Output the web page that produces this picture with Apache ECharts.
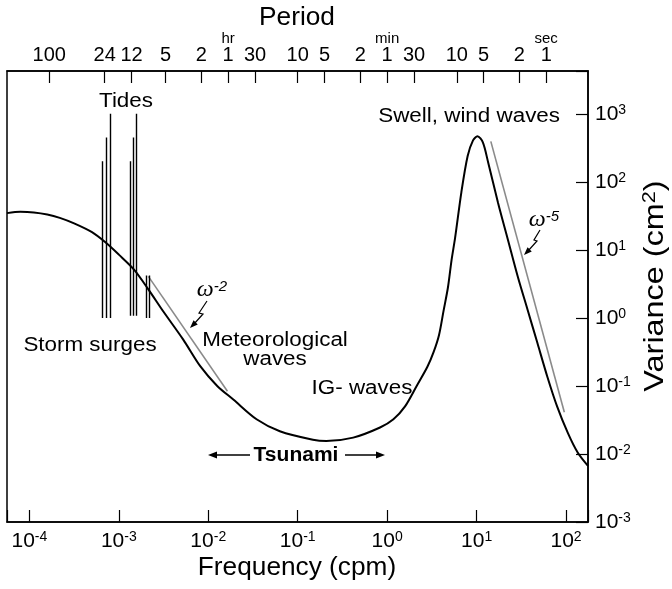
<!DOCTYPE html>
<html><head><meta charset="utf-8">
<script src="https://cdn.jsdelivr.net/npm/echarts@6/dist/echarts.min.js"></script>
<style>html,body{margin:0;padding:0;background:#fff}#c{width:672px;height:589px}</style>
</head><body><div id="c"></div>
<script>
// ---- Data ----
// Spectrum: frequency (cpm) and variance (cm^2)
const spectrumFreq = [5.62e-5, 7.94e-5, 1.122e-4, 1.585e-4, 2.188e-4, 3.162e-4, 5.01e-4, 7.08e-4, 1.0e-3, 1.479e-3,
  2.138e-3, 3.162e-3, 5.25e-3, 8.13e-3, 0.01259, 0.01905, 0.03467, 0.0631, 0.1479, 0.2089,
  0.417, 0.832, 1.175, 1.585, 2.138, 2.818, 3.311, 3.802, 4.266, 4.786,
  5.248, 5.754, 6.761, 7.943, 9.12, 10.23, 11.75, 13.49, 17.38, 22.39,
  28.84, 37.15, 47.86, 61.66, 79.43, 104.7, 134.9, 175.8];
const spectrumVar = [34.7, 36.3, 35.5, 33.1, 29.5, 24.5, 18.2, 12.9, 8.51, 5.13,
  2.63, 1.23, 0.479, 0.195, 0.100, 0.0631, 0.0324, 0.0216, 0.0162, 0.0155,
  0.0174, 0.0245, 0.0324, 0.0501, 0.100, 0.191, 0.316, 0.562, 1.26, 2.82,
  7.08, 15.1, 70.8, 240, 407, 468, 380, 191, 49.0, 14.1,
  4.07, 1.32, 0.427, 0.138, 0.0501, 0.0204, 0.0105, 0.00668];
// Tidal / storm-surge lines
const tideFreq = [6.55e-4, 7.15e-4, 7.93e-4, 1.336e-3, 1.44e-3, 1.57e-3, 2.04e-3, 2.2e-3];
const tideBase = [1, 1, 1, 1.08, 1.08, 1.08, 1, 1];
const tideTop = [200, 449, 1000, 200, 449, 1000, 4.2, 4.2];
// Reference slopes
const omega2Freq = [2.138e-3, 0.01637];
const omega2Var = [4.08, 0.0836];
const omega5Freq = [14.42, 95.7];
const omega5Var = [393, 0.0411];
// Axes
const freqMin = 5.62e-5, freqMax = 176;
const varMin = 0.001, varMax = 4260;
const periodMinutes = [6000, 1440, 720, 300, 120, 60, 30, 10, 5, 2, 1, 0.5, 1/6, 1/12, 1/30, 1/60];
const periodLabels = ['100', '24', '12', '5', '2', '1', '30', '10', '5', '2', '1', '30', '10', '5', '2', '1'];
const periodUnits = ['', '', '', '', '', 'hr', '', '', '', '', 'min', '', '', '', '', 'sec'];

// ---- Chart ----
const FONT = 'Liberation Sans, Arial, Helvetica, sans-serif';
const chart = echarts.init(document.getElementById('c'), null, {renderer: 'canvas'});
const periodPos = periodMinutes.map(p => Math.log10(1 / p));

function powLabel(v) {
  const l = Math.log10(v);
  const e = Math.round(l);
  if (Math.abs(l - e) > 1e-6) return '';
  return '{n|10}{s|' + e + '}';
}
const powRich = {
  n: {fontSize: 21, lineHeight: 22, fontFamily: FONT, color: '#000'},
  s: {fontSize: 14, lineHeight: 10, verticalAlign: 'top', fontFamily: FONT, color: '#000'}
};

function head(tx, ty, fx, fy, len, hw) {
  const dx = tx - fx, dy = ty - fy, d = Math.hypot(dx, dy);
  const ux = dx / d, uy = dy / d;
  const bx = tx - ux * len, by = ty - uy * len;
  return {type: 'polygon', shape: {points: [[tx, ty], [bx - uy * hw, by + ux * hw], [bx + uy * hw, by - ux * hw]]},
    style: {fill: '#000'}, z: 100};
}
function txt(x, y, text, extra, sx) {
  return Object.assign({type: 'text', x: x, y: y, z: 100, scaleX: sx || 1.12,
    style: Object.assign({text: text, fontSize: 20, fontFamily: FONT, fill: '#000', align: 'center', verticalAlign: 'middle'}, extra || {})});
}
function poly(points, w) {
  return {type: 'polyline', shape: {points: points}, style: {stroke: '#000', lineWidth: w || 1.2, fill: null}, z: 100};
}
const omegaRich = {
  w: {fontSize: 24, lineHeight: 22, fontStyle: 'italic', fontFamily: 'Liberation Serif, Times New Roman, serif', color: '#000'},
  s: {fontSize: 15, lineHeight: 12, verticalAlign: 'top', fontStyle: 'italic', fontFamily: FONT, color: '#000'}
};

const option = {
  animation: false,
  backgroundColor: '#fff',
  textStyle: {fontFamily: FONT},
  grid: {left: 7, right: 84, top: 71, bottom: 67, show: true, borderColor: '#000', borderWidth: 1.5, containLabel: false},
  xAxis: [
    {type: 'log', logBase: 10, min: freqMin, max: freqMax, position: 'bottom',
      axisLine: {show: true, onZero: false, lineStyle: {color: '#000', width: 1.5}},
      axisTick: {show: true, inside: true, length: 12, lineStyle: {color: '#000', width: 1.2}},
      minorTick: {show: false}, splitLine: {show: false},
      axisLabel: {margin: 8, formatter: powLabel, rich: powRich, color: '#000'}},
    {type: 'value', min: Math.log10(freqMin), max: Math.log10(freqMax), position: 'top',
      axisLine: {show: true, onZero: false, lineStyle: {color: '#000', width: 1.5}},
      axisTick: {show: true, inside: true, length: 12, customValues: periodPos, lineStyle: {color: '#000', width: 1.2}},
      splitLine: {show: false},
      axisLabel: {margin: 5, customValues: periodPos, color: '#000',
        formatter: function (v) {
          let best = 0, bd = Infinity;
          periodPos.forEach((p, i) => { const d = Math.abs(p - v); if (d < bd) { bd = d; best = i; } });
          const u = periodUnits[best];
          return (u ? '{u|' + u + '}\n' : '') + '{n|' + periodLabels[best] + '}';
        },
        rich: {n: {fontSize: 20, lineHeight: 22, fontFamily: FONT, color: '#000'},
               u: {fontSize: 15, lineHeight: 10, fontFamily: FONT, color: '#000'}}}}
  ],
  yAxis: [
    {type: 'log', logBase: 10, min: varMin, max: varMax, position: 'right',
      axisLine: {show: true, onZero: false, lineStyle: {color: '#000', width: 1.5}},
      axisTick: {show: true, inside: true, length: 12, lineStyle: {color: '#000', width: 1.2}},
      minorTick: {show: false}, splitLine: {show: false},
      axisLabel: {margin: 7, formatter: powLabel, rich: powRich, color: '#000'}}
  ],
  series: [
    {type: 'lines', coordinateSystem: 'cartesian2d', xAxisIndex: 0, yAxisIndex: 0, z: 3,
      data: tideFreq.map((f, i) => ({coords: [[f, tideBase[i]], [f, tideTop[i]]]})),
      lineStyle: {color: '#000', width: 1.4, opacity: 1}},
    {type: 'line', xAxisIndex: 0, yAxisIndex: 0, symbol: 'none', z: 2,
      data: omega2Freq.map((f, i) => [f, omega2Var[i]]),
      lineStyle: {color: '#8a8a8a', width: 1.6}},
    {type: 'line', xAxisIndex: 0, yAxisIndex: 0, symbol: 'none', z: 2,
      data: omega5Freq.map((f, i) => [f, omega5Var[i]]),
      lineStyle: {color: '#8a8a8a', width: 1.6}},
    {type: 'line', xAxisIndex: 0, yAxisIndex: 0, symbol: 'none', smooth: 0.3, z: 4,
      data: spectrumFreq.map((f, i) => [f, spectrumVar[i]]),
      lineStyle: {color: '#000', width: 2}}
  ],
  graphic: [
    txt(297, 18, 'Period', {fontSize: 25}, 1.05),
    txt(297, 568, 'Frequency (cpm)', {fontSize: 25}, 1.05),
    {type: 'text', x: 656, y: 286, rotation: Math.PI / 2, scaleX: 1.2, z: 100,
      style: {text: '{a|Variance (cm}{b|2}{a|)}', align: 'center', verticalAlign: 'middle', fill: '#000',
        rich: {a: {fontSize: 27, lineHeight: 30, fontFamily: FONT, color: '#000'},
               b: {fontSize: 18, lineHeight: 16, verticalAlign: 'top', fontFamily: FONT, color: '#000'}}}},
    txt(126, 101, 'Tides'),
    txt(90, 345, 'Storm surges'),
    txt(275, 350, 'Meteorological\nwaves', {lineHeight: 19}),
    txt(362, 388, 'IG- waves'),
    txt(560, 116, 'Swell, wind waves', {align: 'right'}),
    {type: 'text', x: 212, y: 290, z: 100,
      style: {text: '{w|ω}{s|-2}', align: 'center', verticalAlign: 'middle', fill: '#000', rich: omegaRich}},
    {type: 'text', x: 544, y: 220, z: 100,
      style: {text: '{w|ω}{s|-5}', align: 'center', verticalAlign: 'middle', fill: '#000', rich: omegaRich}},
    poly([[207, 301], [199, 313], [203, 314], [194, 324]]),
    head(190, 328, 194, 324, 8, 3),
    poly([[540, 230], [534, 240], [537, 241], [528, 251]]),
    head(524, 255, 528, 251, 8, 3),
    txt(296, 455, 'Tsunami', {fontWeight: 'bold'}, 1.05),
    poly([[250, 455], [214, 455]], 1.5),
    head(208, 455, 214, 455, 9, 3.5),
    poly([[345, 455], [379, 455]], 1.5),
    head(385, 455, 379, 455, 9, 3.5)
  ]
};
chart.setOption(option);
</script></body></html>
